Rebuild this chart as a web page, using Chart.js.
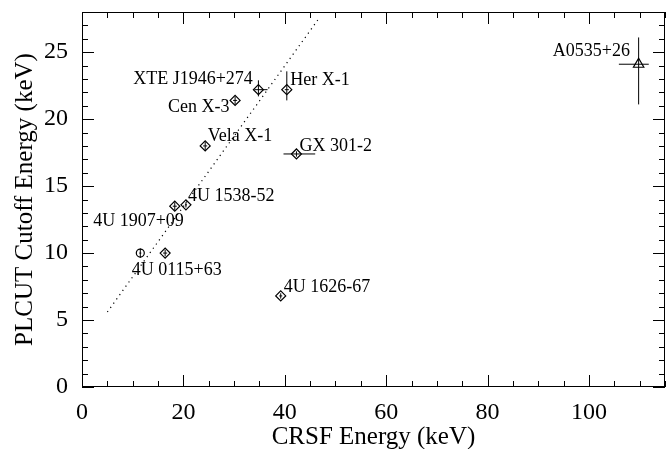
<!DOCTYPE html>
<html>
<head>
<meta charset="utf-8">
<script src="https://cdn.jsdelivr.net/npm/chart.js@4.4.1/dist/chart.umd.min.js"></script>
<style>
html, body { margin: 0; padding: 0; background: #fff; }
#wrap { width: 666px; height: 449px; }
</style>
</head>
<body>
<div id="wrap"><canvas id="c"></canvas></div>
<script>
// one entry per measured source (CRSF energy vs. PLCUT cutoff energy, keV)
const crsfEnergy   = [11.5, 16.4, 18.3, 20.5, 24.3, 30.2, 34.8, 40.4, 42.3, 39.2, 109.8];
const cutoffEnergy = [10.0, 10.0, 13.5, 13.6, 18.0, 21.4, 22.2, 22.2, 17.4, 6.8, 24.1];
const crsfErrLo    = [0.2, 0.4, 0.4, 0.2, 0.4, 0.4, 0.8, 0.4, 2.55, 0.3, 3.9];
const crsfErrHi    = [0.2, 0.4, 0.4, 0.2, 0.4, 0.4, 1.8, 0.4, 3.7, 0.3, 2.0];
const cutoffErrLo  = [0.35, 0.25, 0.3, 0.2, 0.3, 0.3, 0.5, 0.8, 0.2, 0.2, 3.0];
const cutoffErrHi  = [0.35, 0.25, 0.3, 0.2, 0.3, 0.3, 0.7, 1.37, 0.2, 0.2, 2.0];
const markers      = ['circle', 'rectRot', 'rectRot', 'rectRot', 'rectRot', 'rectRot',
                      'rectRot', 'rectRot', 'rectRot', 'rectRot', 'triangle'];

// dotted reference line
const refLineX = [5, 46.5];
const refLineY = [5.6, 27.4];

// source labels: text, anchor (data units), alignment
const labelText  = ['XTE J1946+274', 'Her X-1', 'Cen X-3', 'Vela X-1', 'GX 301-2',
                    '4U 1538-52', '4U 1907+09', '4U 0115+63', '4U 1626-67', 'A0535+26'];
const labelX     = [33.7, 41.1, 29.1, 24.8, 42.9, 20.9, 2.2, 9.8, 39.8, 108.1];
const labelY     = [23.0, 22.9, 20.9, 18.75, 18.0, 14.25, 12.4, 8.75, 7.46, 25.06];
const labelAlign = ['right', 'left', 'right', 'left', 'left', 'left', 'left', 'left', 'left', 'right'];

const xMax = 115, yMax = 28;
const SERIF = "'Liberation Serif', 'Times New Roman', serif";

const points = crsfEnergy.map((x, i) => ({ x: x, y: cutoffEnergy[i] }));
const refLine = refLineX.map((x, i) => ({ x: x, y: refLineY[i] }));

// error bars, drawn from the scales
const errorBars = {
    id: 'errorBars',
    beforeDatasetsDraw(chart) {
        const { ctx, scales: { x, y } } = chart;
        ctx.save();
        ctx.strokeStyle = '#000';
        ctx.lineWidth = 1;
        for (let i = 0; i < crsfEnergy.length; i++) {
            const px = x.getPixelForValue(crsfEnergy[i]);
            const py = y.getPixelForValue(cutoffEnergy[i]);
            ctx.beginPath();
            ctx.moveTo(x.getPixelForValue(crsfEnergy[i] - crsfErrLo[i]), py);
            ctx.lineTo(x.getPixelForValue(crsfEnergy[i] + crsfErrHi[i]), py);
            ctx.moveTo(px, y.getPixelForValue(cutoffEnergy[i] - cutoffErrLo[i]));
            ctx.lineTo(px, y.getPixelForValue(cutoffEnergy[i] + cutoffErrHi[i]));
            ctx.stroke();
        }
        ctx.restore();
    }
};

// IDL-style frame with inward ticks on all four sides
const frameTicks = {
    id: 'frameTicks',
    afterDraw(chart) {
        const { ctx, chartArea: a, scales: { x, y } } = chart;
        ctx.save();
        ctx.strokeStyle = '#000';
        ctx.lineWidth = 1;
        ctx.strokeRect(a.left + 0.5, a.top + 0.5, a.right - a.left - 1, a.bottom - a.top - 1);
        ctx.beginPath();
        for (let v = 0; v <= xMax; v += 5) {
            const p = Math.round(x.getPixelForValue(v)) + 0.5;
            const len = v % 20 === 0 ? 12 : 6;
            ctx.moveTo(p, a.bottom); ctx.lineTo(p, a.bottom - len);
            ctx.moveTo(p, a.top); ctx.lineTo(p, a.top + len);
        }
        for (let v = 0; v <= yMax; v += 1) {
            const p = Math.round(y.getPixelForValue(v)) + 0.5;
            const len = v % 5 === 0 ? 12 : 6;
            ctx.moveTo(a.left, p); ctx.lineTo(a.left + len, p);
            ctx.moveTo(a.right, p); ctx.lineTo(a.right - len, p);
        }
        ctx.stroke();
        ctx.restore();
    }
};

const sourceLabels = {
    id: 'sourceLabels',
    afterDatasetsDraw(chart) {
        const { ctx, scales: { x, y } } = chart;
        ctx.save();
        ctx.fillStyle = '#000';
        ctx.font = '18px ' + SERIF;
        ctx.textBaseline = 'middle';
        labelText.forEach((t, i) => {
            ctx.textAlign = labelAlign[i];
            ctx.fillText(t, x.getPixelForValue(labelX[i]), y.getPixelForValue(labelY[i]));
        });
        ctx.restore();
    }
};

new Chart(document.getElementById('c'), {
    type: 'scatter',
    data: {
        datasets: [
            {
                data: refLine,
                showLine: true,
                borderColor: '#000',
                borderWidth: 1.2,
                borderDash: [1.2, 4],
                pointRadius: 0
            },
            {
                data: points,
                pointStyle: markers,
                pointRadius: [4, 5, 5, 5, 5, 5, 5, 5, 5, 5, 6],
                backgroundColor: 'rgba(0,0,0,0)',
                borderColor: '#000',
                borderWidth: 1.2
            }
        ]
    },
    options: {
        responsive: true,
        maintainAspectRatio: false,
        animation: false,
        layout: { autoPadding: false, padding: { top: 12, right: 1, left: 0, bottom: 0 } },
        plugins: { legend: { display: false }, tooltip: { enabled: false } },
        scales: {
            x: {
                type: 'linear',
                min: 0, max: xMax,
                afterFit: s => { s.height = 62; s.paddingLeft = 0; s.paddingRight = 0; },
                grid: { display: false },
                border: { display: false },
                ticks: {
                    stepSize: 20, includeBounds: false, padding: 3,
                    color: '#000', font: { family: SERIF, size: 24 },
                    maxRotation: 0
                },
                title: {
                    display: true, text: 'CRSF Energy (keV)', color: '#000',
                    font: { family: SERIF, size: 25, lineHeight: 1 },
                    padding: { top: 0, bottom: -1 }
                }
            },
            y: {
                type: 'linear',
                min: 0, max: yMax,
                afterFit: s => { s.width = 82; s.paddingTop = 0; s.paddingBottom = 0; },
                grid: { display: false },
                border: { display: false },
                ticks: {
                    stepSize: 5, includeBounds: false, padding: 6,
                    color: '#000', font: { family: SERIF, size: 24 }
                },
                title: {
                    display: true, text: 'PLCUT Cutoff Energy (keV)', color: '#000',
                    font: { family: SERIF, size: 25, lineHeight: 1 },
                    padding: { top: 13, bottom: 0 }
                }
            }
        }
    },
    plugins: [errorBars, frameTicks, sourceLabels]
});
</script>
</body>
</html>
